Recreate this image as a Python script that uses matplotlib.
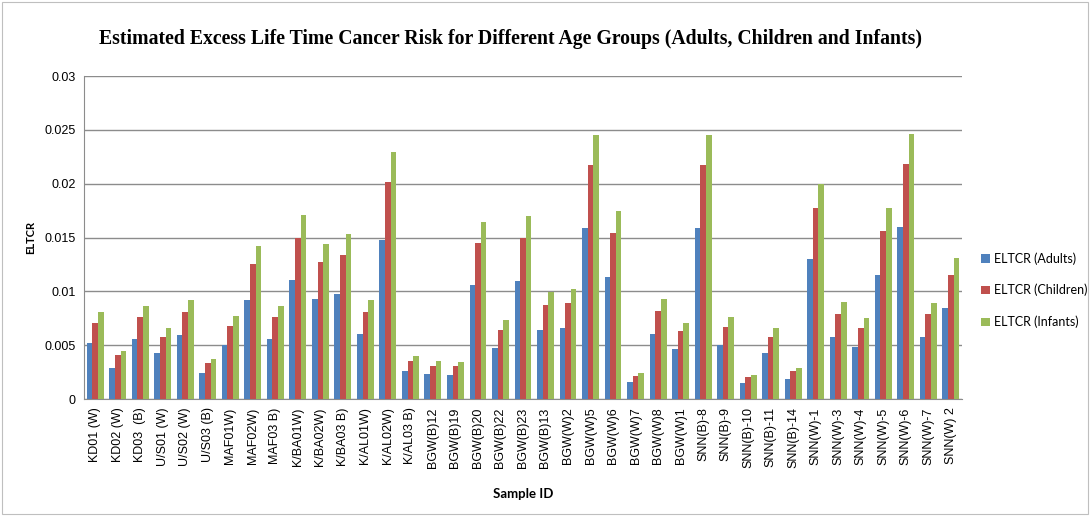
import numpy as np
import matplotlib
matplotlib.use('Agg')
import matplotlib.pyplot as plt
from matplotlib.patches import Rectangle

samples = ['KD01 (W)', 'KD02 (W)', 'KD03  (B)', 'U/S01 (W)', 'U/S02 (W)', 'U/S03 (B)',
           'MAF01W)', 'MAF02W)', 'MAF03 B)', 'K/BA01W)', 'K/BA02W)', 'K/BA03 B)',
           'K/AL01W)', 'K/AL02W)', 'K/AL03 B)', 'BGW(B)12', 'BGW(B)19', 'BGW(B)20',
           'BGW(B)22', 'BGW(B)23', 'BGW(B)13', 'BGW(W)2', 'BGW(W)5', 'BGW(W)6',
           'BGW(W)7', 'BGW(W)8', 'BGW(W)1', 'SNN(B)-8', 'SNN(B)-9', 'SNN(B)-10',
           'SNN(B)-11', 'SNN(B)-14', 'SNN(W)-1', 'SNN(W)-3', 'SNN(W)-4', 'SNN(W)-5',
           'SNN(W)-6', 'SNN(W)-7', 'SNN(W) 2']

adults = [0.0052, 0.0029, 0.0056, 0.0043, 0.0059, 0.0024, 0.0050, 0.0092, 0.0056,
          0.0111, 0.0093, 0.0098, 0.0060, 0.0148, 0.0026, 0.0023, 0.0022, 0.0106,
          0.0047, 0.0110, 0.0064, 0.0066, 0.0159, 0.0113, 0.0016, 0.0060, 0.0046,
          0.0159, 0.0050, 0.0015, 0.0043, 0.0019, 0.0130, 0.0058, 0.0048, 0.0115,
          0.0160, 0.0058, 0.0085]
children = [0.0071, 0.0041, 0.0076, 0.0058, 0.0081, 0.0033, 0.0068, 0.0125, 0.0076,
            0.0150, 0.0127, 0.0134, 0.0081, 0.0202, 0.0035, 0.0031, 0.0031, 0.0145,
            0.0064, 0.0150, 0.0087, 0.0089, 0.0217, 0.0154, 0.0021, 0.0082, 0.0063,
            0.0217, 0.0067, 0.0020, 0.0058, 0.0026, 0.0177, 0.0079, 0.0066, 0.0156,
            0.0218, 0.0079, 0.0115]
infants = [0.0081, 0.0045, 0.0086, 0.0066, 0.0092, 0.0037, 0.0077, 0.0142, 0.0086,
           0.0171, 0.0144, 0.0153, 0.0092, 0.0229, 0.0040, 0.0035, 0.0034, 0.0164,
           0.0073, 0.0170, 0.0099, 0.0102, 0.0245, 0.0175, 0.0024, 0.0093, 0.0071,
           0.0245, 0.0076, 0.0022, 0.0066, 0.0029, 0.0200, 0.0090, 0.0075, 0.0177,
           0.0246, 0.0089, 0.0131]

series = [('ELTCR (Adults)', adults, '#4F81BD'),
          ('ELTCR (Children)', children, '#C0504D'),
          ('ELTCR (Infants)', infants, '#9BBB59')]

fig = plt.figure(figsize=(10.9, 5.16), dpi=100)
fig.patches.append(Rectangle((0.002, 0.003), 0.996, 0.994, transform=fig.transFigure,
                             fill=False, edgecolor='#BFBFBF', linewidth=0.8))
ax = fig.add_axes([0.077, 0.2267, 0.8056, 0.626])

x = np.arange(len(samples))
w = 0.25
for i, (name, vals, col) in enumerate(series):
    ax.bar(x + (i - 1) * w, vals, width=w, color=col, label=name, zorder=3)

ax.set_xlim(-0.5, len(samples) - 0.5)
ax.set_ylim(0, 0.03)
ax.set_yticks([0, 0.005, 0.01, 0.015, 0.02, 0.025, 0.03])
ax.set_yticklabels(['0', '0.005', '0.01', '0.015', '0.02', '0.025', '0.03'],
                   fontsize=9, family='Liberation Sans')
ax.set_xticks(x)
ax.set_xticklabels(samples, rotation=90, fontsize=9, family='Liberation Sans')
ax.grid(axis='y', color='#8C8C8C', linewidth=1, zorder=0)
for s in ['top', 'right']:
    ax.spines[s].set_visible(False)
ax.spines['left'].set_color('#8C8C8C')
ax.spines['bottom'].set_color('#8C8C8C')
ax.tick_params(axis='both', length=0, pad=6)

ax.set_ylabel('ELTCR', fontsize=8, fontweight='bold', family='Lato', labelpad=6)
ax.set_xlabel('Sample ID', fontsize=9.5, fontweight='bold', family='Lato', labelpad=14)
fig.text(0.468, 0.925, 'Estimated Excess Life Time Cancer Risk for Different Age Groups (Adults, Children and Infants)',
         ha='center', va='center', fontsize=14.2, fontweight='bold', family='Liberation Serif')

ax.legend(loc='center left', bbox_to_anchor=(1.022, 0.337), frameon=False, borderpad=0,
          borderaxespad=0, prop={'family': 'Lato', 'size': 9}, handlelength=0.7,
          handleheight=0.7, handletextpad=0.3, labelspacing=1.55)

fig.savefig('out.png', dpi=100)
